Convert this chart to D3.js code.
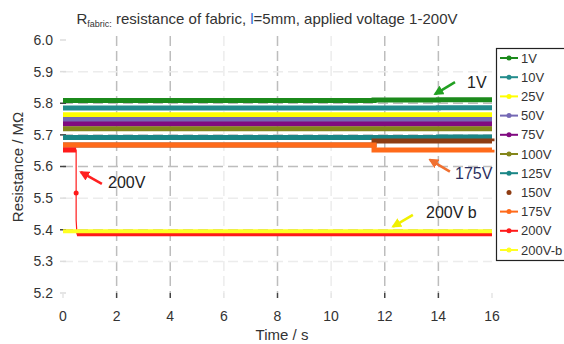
<!DOCTYPE html>
<html>
<head>
<meta charset="utf-8">
<script src="https://cdn.jsdelivr.net/npm/d3@7"></script>
<style>
  body { margin: 0; background: #fff; }
  svg { font-family: "Liberation Sans", Arial, sans-serif; }
</style>
</head>
<body>
<svg id="chart" width="564" height="344"></svg>
<script>
// times in s, resistance in MOhm (held until next time)
const times = [0, 2, 4, 6, 8, 10, 11.6, 14, 16];
const r1V   = [5.809, 5.809, 5.809, 5.809, 5.809, 5.809, 5.810, 5.811, 5.811];
const r10V  = [5.785, 5.785, 5.785, 5.785, 5.785, 5.785, 5.785, 5.786, 5.786];
const r25V  = [5.764, 5.764, 5.764, 5.764, 5.764, 5.764, 5.764, 5.764, 5.764];
const r50V  = [5.749, 5.749, 5.749, 5.749, 5.749, 5.749, 5.749, 5.749, 5.749];
const r75V  = [5.734, 5.734, 5.734, 5.734, 5.734, 5.734, 5.734, 5.734, 5.734];
const r100V = [5.719, 5.719, 5.719, 5.719, 5.719, 5.719, 5.719, 5.719, 5.719];
const r125V = [5.692, 5.692, 5.692, 5.692, 5.692, 5.692, 5.692, 5.693, 5.693];
const r150V = [5.668, 5.668, 5.668, 5.668, 5.668, 5.668, 5.681, 5.681, 5.680];
const r175V = [5.668, 5.668, 5.668, 5.668, 5.668, 5.668, 5.652, 5.652, 5.653];
const r200Vb = [5.395, 5.395, 5.395, 5.395, 5.395, 5.395, 5.395, 5.395, 5.395];

// 200V has its own sampling because of the drop at ~0.5 s
const times200 = [0, 0.45, 0.49, 0.49, 0.49, 0.52, 2, 4, 8, 12, 16];
const r200V    = [5.652, 5.652, 5.652, 5.516, 5.431, 5.387, 5.387, 5.387, 5.387, 5.387, 5.387];

const xTicks = [0, 2, 4, 6, 8, 10, 12, 14, 16];
const yTicks = [5.2, 5.3, 5.4, 5.5, 5.6, 5.7, 5.8, 5.9, 6.0];
const strongX = [2, 4, 8, 12, 14];
const strongY = [5.4, 5.6, 5.7, 5.8];

const series = [
  {name: "1V",     t: times,    v: r1V,    color: "#1b8a1b"},
  {name: "10V",    t: times,    v: r10V,   color: "#238c8c"},
  {name: "25V",    t: times,    v: r25V,   color: "#ffff00"},
  {name: "50V",    t: times,    v: r50V,   color: "#7468b4"},
  {name: "75V",    t: times,    v: r75V,   color: "#800a80"},
  {name: "100V",   t: times,    v: r100V,  color: "#84861a"},
  {name: "125V",   t: times,    v: r125V,  color: "#1a8686"},
  {name: "150V",   t: times,    v: r150V,  color: "#8e3c12", noLegendLine: true},
  {name: "175V",   t: times,    v: r175V,  color: "#ff6a1a"},
  {name: "200V",   t: times200, v: r200V,  color: "#ff1a1a"},
  {name: "200V-b", t: times,    v: r200Vb, color: "#ffff22"}
];

// text, anchor point, arrow tail -> tip (data units)
const notes = [
  {text: "1V",     x: 15.07, y: 5.848, from: [14.62, 5.867], to: [13.88, 5.829], color: "#22a022"},
  {text: "175V",   x: 14.62, y: 5.560, from: [14.43, 5.584], to: [13.69, 5.621], color: "#f07030"},
  {text: "200V",   x: 1.68,  y: 5.532, from: [1.45, 5.545],  to: [0.67, 5.582],  color: "#ff2020"},
  {text: "200V b", x: 13.54, y: 5.437, from: [13.05, 5.447], to: [12.31, 5.41],  color: "#f0f000"}
];

const svg = d3.select("#chart");

const x = d3.scaleLinear().domain([0, 16]).range([63, 492]);
const y = d3.scaleLinear().domain([5.2, 6.0]).range([293, 40]);

// title
const title = svg.append("text")
  .attr("x", 267).attr("y", 24)
  .attr("text-anchor", "middle")
  .attr("font-size", 15)
  .attr("fill", "#333");
title.append("tspan").text("R");
title.append("tspan").attr("font-size", 9).attr("dy", 3).text("fabric:");
title.append("tspan").attr("dy", -3).text(" resistance of fabric, ");
title.append("tspan").attr("fill", "#2a6ad0").text("l");
title.append("tspan").text("=5mm, applied voltage 1-200V");

// grid
const grid = svg.append("g");
grid.selectAll(".gx").data(xTicks.filter(d => d > 0 && d < 16)).join("line")
  .attr("x1", d => x(d)).attr("x2", d => x(d))
  .attr("y1", y(6.0) - 4).attr("y2", y(5.2))
  .attr("stroke", d => strongX.includes(d) ? "#bdbdbd" : "#ececec")
  .attr("stroke-width", 1.5)
  .attr("stroke-dasharray", "10,5");
grid.selectAll(".gy").data(yTicks.filter(d => d > 5.2 && d < 6.0)).join("line")
  .attr("x1", x(0)).attr("x2", x(16))
  .attr("y1", d => y(d)).attr("y2", d => y(d))
  .attr("stroke", d => strongY.includes(d) ? "#bdbdbd" : "#ececec")
  .attr("stroke-width", 1.5)
  .attr("stroke-dasharray", "10,5");

// y axis ticks and labels
const ya = svg.append("g");
ya.selectAll("line").data(yTicks).join("line")
  .attr("x1", 60).attr("x2", 66)
  .attr("y1", d => y(d)).attr("y2", d => y(d))
  .attr("stroke", d => strongY.includes(d) ? "#444" : "#ddd")
  .attr("stroke-width", 1.5);
ya.selectAll("text").data(yTicks).join("text")
  .attr("x", 53).attr("y", d => y(d))
  .attr("dy", "0.35em")
  .attr("text-anchor", "end")
  .attr("font-size", 14)
  .attr("fill", "#333")
  .text(d => d3.format(".1f")(d));

// x axis ticks and labels
const xa = svg.append("g");
xa.selectAll("line").data(xTicks).join("line")
  .attr("x1", d => x(d)).attr("x2", d => x(d))
  .attr("y1", 293).attr("y2", 298)
  .attr("stroke", d => strongX.includes(d) ? "#444" : "#e4e4e4")
  .attr("stroke-width", 1.5);
xa.selectAll("text").data(xTicks).join("text")
  .attr("x", d => x(d)).attr("y", 321)
  .attr("text-anchor", "middle")
  .attr("font-size", 14)
  .attr("fill", "#333")
  .text(d => d);

svg.append("text")
  .attr("x", 282).attr("y", 340)
  .attr("text-anchor", "middle")
  .attr("font-size", 15)
  .attr("fill", "#333")
  .text("Time / s");

svg.append("text")
  .attr("transform", "translate(23,167) rotate(-90)")
  .attr("text-anchor", "middle")
  .attr("font-size", 15)
  .attr("fill", "#333")
  .text("Resistance / MΩ");

// data lines
const pts = s => s.t.map((t, i) => ({t: t, v: s.v[i]}));
const thick = d3.line()
  .defined(d => d.v > 5.6 || d.v < 5.4)
  .curve(d3.curveStepAfter)
  .x(d => x(d.t)).y(d => y(d.v));
const thin = d3.line().x(d => x(d.t)).y(d => y(d.v));

const lines = svg.append("g");
series.forEach(s => {
  const p = pts(s);
  if (s.name === "200V") {
    lines.append("path")
      .attr("d", thin(p))
      .attr("fill", "none")
      .attr("stroke", s.color)
      .attr("stroke-width", 1.2);
    lines.append("circle")
      .attr("cx", x(p[3].t)).attr("cy", y(p[3].v))
      .attr("r", 2.5).attr("fill", s.color);
  }
  lines.append("path")
    .attr("d", thick(p))
    .attr("fill", "none")
    .attr("stroke", s.color)
    .attr("stroke-width", s.name === "200V-b" ? 4 : 5);
});

// annotations
const defs = svg.append("defs");
notes.forEach((n, i) => {
  defs.append("marker")
    .attr("id", "ah" + i)
    .attr("viewBox", "0 0 10 10")
    .attr("refX", 8).attr("refY", 5)
    .attr("markerWidth", 4).attr("markerHeight", 4)
    .attr("orient", "auto")
    .append("path")
    .attr("d", "M0,0 L10,5 L0,10 z")
    .attr("fill", n.color);
  svg.append("line")
    .attr("x1", x(n.from[0])).attr("y1", y(n.from[1]))
    .attr("x2", x(n.to[0])).attr("y2", y(n.to[1]))
    .attr("stroke", n.color)
    .attr("stroke-width", 2.5)
    .attr("marker-end", "url(#ah" + i + ")");
  svg.append("text")
    .attr("x", x(n.x)).attr("y", y(n.y))
    .attr("font-size", 16)
    .attr("fill", n.text === "175V" ? "#2c3060" : "#222")
    .text(n.text);
});

// legend
const lg = svg.append("g");
lg.append("rect")
  .attr("x", 496.5).attr("y", 48.5)
  .attr("width", 80).attr("height", 212)
  .attr("fill", "#fff")
  .attr("stroke", "#222")
  .attr("stroke-width", 1.2);
const item = lg.selectAll(".item").data(series).join("g")
  .attr("transform", (d, i) => `translate(0,${58 + i * 19.2})`);
item.filter(d => !d.noLegendLine).append("line")
  .attr("x1", 500).attr("x2", 518)
  .attr("stroke", d => d.color)
  .attr("stroke-width", 2);
item.append("circle")
  .attr("cx", 509).attr("r", 2.5)
  .attr("fill", d => d.color);
item.append("text")
  .attr("x", 521).attr("dy", "0.35em")
  .attr("font-size", 13)
  .attr("fill", "#333")
  .text(d => d.name);
</script>
</body>
</html>
